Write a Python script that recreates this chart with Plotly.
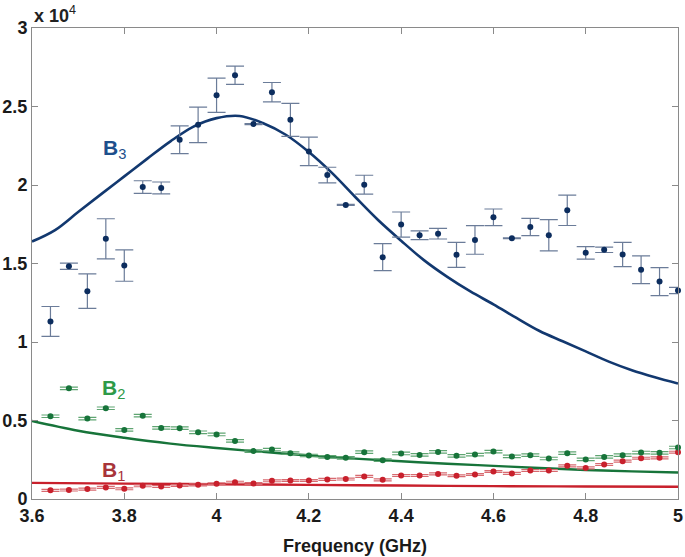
import plotly.graph_objects as go

# Frequency grid of measured points (GHz)
freq = [3.64, 3.68, 3.72, 3.76, 3.80, 3.84, 3.88, 3.92, 3.96, 4.00, 4.04,
        4.08, 4.12, 4.16, 4.20, 4.24, 4.28, 4.32, 4.36, 4.40, 4.44, 4.48, 4.52,
        4.56, 4.60, 4.64, 4.68, 4.72, 4.76, 4.80, 4.84, 4.88, 4.92, 4.96, 5.00]

# B3 measured values (x 10^4) and errors
b3 = [1.131, 1.483, 1.324, 1.657, 1.487, 1.987, 1.981, 2.288, 2.383, 2.572, 2.699,
      2.388, 2.591, 2.415, 2.214, 2.063, 1.873, 2.002, 1.540, 1.748, 1.680, 1.690, 1.555,
      1.650, 1.794, 1.661, 1.733, 1.680, 1.839, 1.568, 1.587, 1.557, 1.460, 1.385, 1.328]
b3_err = [0.095, 0.020, 0.110, 0.128, 0.100, 0.040, 0.038, 0.088, 0.113, 0.109, 0.058,
          0.003, 0.062, 0.105, 0.091, 0.050, 0.003, 0.060, 0.086, 0.080, 0.028, 0.034, 0.080,
          0.091, 0.053, 0.003, 0.055, 0.100, 0.097, 0.040, 0.017, 0.077, 0.088, 0.089, 0.020]

# B2 measured values (x 10^4)
b2 = [0.527, 0.705, 0.512, 0.578, 0.440, 0.531, 0.453, 0.451, 0.425, 0.411, 0.370,
      0.305, 0.315, 0.292, 0.277, 0.268, 0.262, 0.298, 0.247, 0.290, 0.281, 0.300, 0.275,
      0.283, 0.302, 0.271, 0.279, 0.258, 0.292, 0.252, 0.268, 0.279, 0.296, 0.294, 0.328]
b2_err = [0.008] * len(b2)

# B1 measured values (x 10^4)
b1 = [0.055, 0.057, 0.063, 0.074, 0.065, 0.084, 0.080, 0.086, 0.090, 0.097, 0.107,
      0.099, 0.116, 0.118, 0.118, 0.125, 0.127, 0.144, 0.122, 0.150, 0.150, 0.160, 0.148,
      0.156, 0.175, 0.163, 0.182, 0.182, 0.211, 0.198, 0.220, 0.241, 0.260, 0.262, 0.298]
b1_err = [0.006] * len(b1)

# Fitted curves
fit3_f = [3.60, 3.65, 3.70, 3.75, 3.80, 3.85, 3.90, 3.95, 4.00, 4.05, 4.10, 4.15,
          4.20, 4.25, 4.30, 4.35, 4.40, 4.45, 4.50, 4.55, 4.60, 4.65, 4.70, 4.75,
          4.80, 4.85, 4.90, 4.95, 5.00]
fit3 = [1.640, 1.713, 1.828, 1.942, 2.055, 2.168, 2.278, 2.372, 2.426, 2.440, 2.395, 2.320,
        2.210, 2.077, 1.925, 1.777, 1.645, 1.520, 1.415, 1.322, 1.240, 1.153, 1.070, 1.005,
        0.940, 0.875, 0.820, 0.775, 0.735]

fit2_f = [3.6, 3.7, 3.8, 3.9, 4.0, 4.1, 4.2, 4.3, 4.4, 4.5, 4.6, 4.7, 4.8, 4.9, 5.0]
fit2 = [0.497, 0.435, 0.390, 0.353, 0.325, 0.300, 0.277, 0.257, 0.240, 0.225, 0.211,
        0.197, 0.185, 0.176, 0.169]

fit1_f = [3.6, 3.8, 4.0, 4.2, 4.4, 4.6, 4.8, 5.0]
fit1 = [0.103, 0.098, 0.094, 0.090, 0.086, 0.082, 0.080, 0.078]

xticks = [3.6, 3.8, 4.0, 4.2, 4.4, 4.6, 4.8, 5.0]
xtick_text = ["3.6", "3.8", "4", "4.2", "4.4", "4.6", "4.8", "5"]
yticks = [0, 0.5, 1, 1.5, 2, 2.5, 3]
ytick_text = ["0", "0.5", "1", "1.5", "2", "2.5", "3"]

NAVY = "#0c2d5e"
GREEN = "#17743a"
RED = "#c8202c"
FONT = "Liberation Sans, Arial, sans-serif"

fig = go.Figure()

# curves
fig.add_trace(go.Scatter(x=fit1_f, y=fit1, mode="lines", line=dict(color=RED, width=2.4, shape="spline"),
                         showlegend=False, hoverinfo="skip"))
fig.add_trace(go.Scatter(x=fit2_f, y=fit2, mode="lines", line=dict(color=GREEN, width=2.4, shape="spline"),
                         showlegend=False, hoverinfo="skip"))
fig.add_trace(go.Scatter(x=fit3_f, y=fit3, mode="lines", line=dict(color="#12386f", width=2.6, shape="spline"),
                         showlegend=False, hoverinfo="skip"))

# data points
fig.add_trace(go.Scatter(x=freq, y=b1, mode="markers", marker=dict(color=RED, size=6),
                         error_y=dict(type="data", array=b1_err, width=9, thickness=1.2, color="#d86a70"),
                         cliponaxis=False, showlegend=False))
fig.add_trace(go.Scatter(x=freq, y=b2, mode="markers", marker=dict(color=GREEN, size=6),
                         error_y=dict(type="data", array=b2_err, width=9, thickness=1.2, color="#5fa572"),
                         cliponaxis=False, showlegend=False))
fig.add_trace(go.Scatter(x=freq, y=b3, mode="markers", marker=dict(color=NAVY, size=6),
                         error_y=dict(type="data", array=b3_err, width=9, thickness=1.2, color="#6b7c99"),
                         cliponaxis=False, showlegend=False))

# labels
lab_font = dict(family=FONT, size=21)
fig.add_annotation(x=3.779, y=2.23, xref="x", yref="y", showarrow=False,
                   text="<b>B</b><sub>3</sub>", font=dict(lab_font, color="#1d4f8c"))
fig.add_annotation(x=3.777, y=0.70, xref="x", yref="y", showarrow=False,
                   text="<b>B</b><sub>2</sub>", font=dict(lab_font, color="#2e9a48"))
fig.add_annotation(x=3.777, y=0.18, xref="x", yref="y", showarrow=False,
                   text="<b>B</b><sub>1</sub>", font=dict(lab_font, color="#a8343a"))

fig.add_annotation(x=0.0, y=1.028, xref="paper", yref="paper", xanchor="left", yanchor="middle",
                   showarrow=False, text="<b>x 10</b><sup>4</sup>",
                   font=dict(family=FONT, size=18, color="#222"))

# x-axis title as annotation for exact placement
fig.add_annotation(x=0.5, y=-0.1, xref="paper", yref="paper", xanchor="center", yanchor="middle",
                   showarrow=False, text="<b>Frequency (GHz)</b>",
                   font=dict(family=FONT, size=18, color="#1a1a1a"))

axis_common = dict(showline=True, linecolor="#8a8a8a", linewidth=1, mirror="ticks",
                   ticks="inside", ticklen=6, tickcolor="#8a8a8a", showgrid=False, zeroline=False,
                   automargin=False,
                   tickfont=dict(family=FONT, size=18, color="#1a1a1a"))

fig.update_xaxes(range=[3.6, 5.0], tickvals=xticks, ticktext=[f"<b>{t}</b>" for t in xtick_text],
                 **axis_common)
fig.update_yaxes(range=[0, 3], tickvals=yticks, ticktext=[f"<b>{t}</b>" for t in ytick_text],
                 **axis_common)

fig.update_layout(width=685, height=557, margin=dict(l=32, r=7, t=28, b=58),
                  paper_bgcolor="white", plot_bgcolor="white")

# remove the default page margin so the figure fills the window from its top-left corner
fig.write_html("out.html", config={"displayModeBar": False},
               post_script="document.body.style.margin='0';document.body.style.overflow='hidden';")
